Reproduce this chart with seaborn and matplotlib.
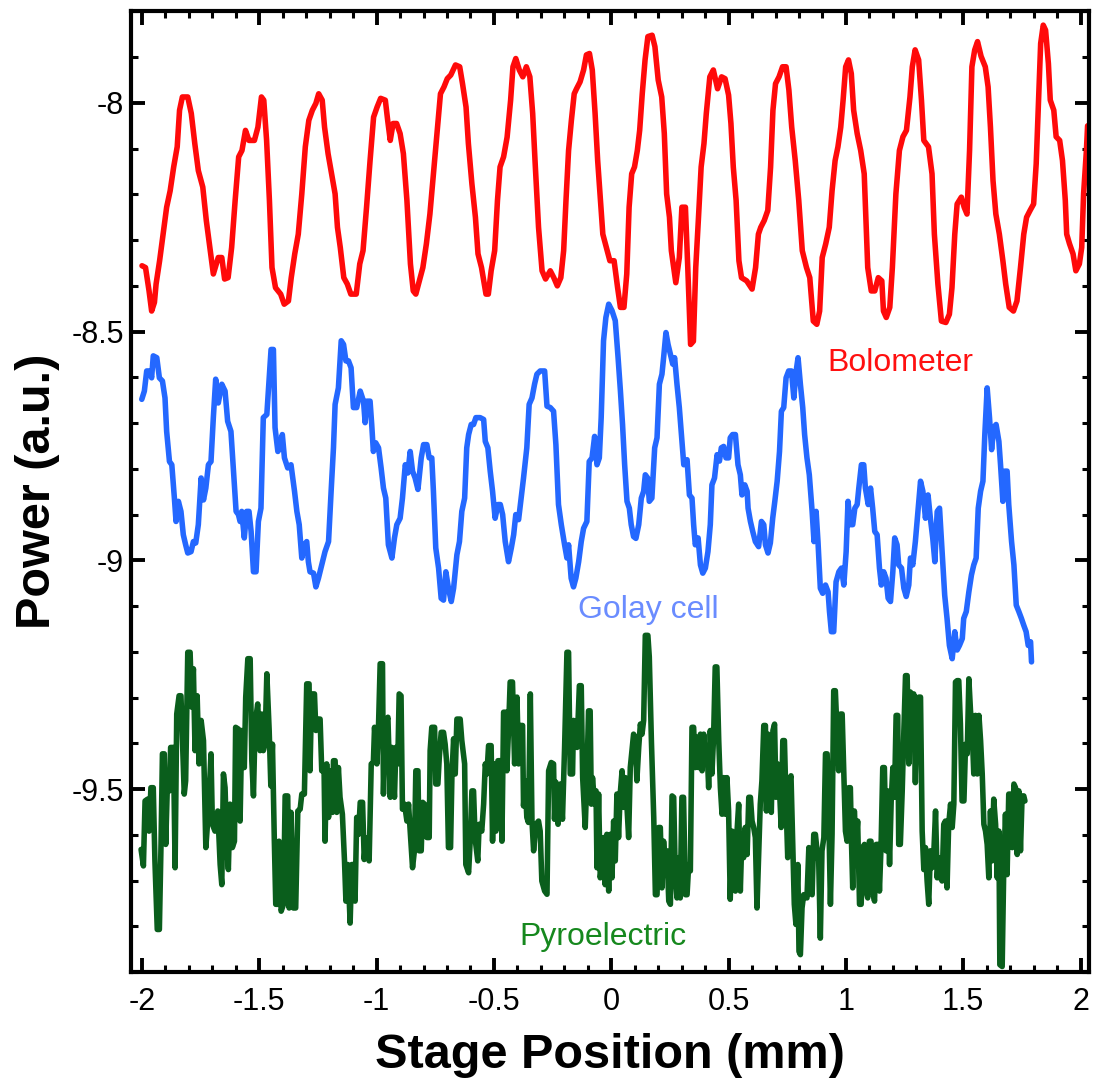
import matplotlib
matplotlib.use("Agg")
import matplotlib.pyplot as plt
from matplotlib.ticker import MultipleLocator, FuncFormatter
import seaborn as sns

# ============================================================
# DATA
# ============================================================
bolo_x = [
    -2.000, -1.985, -1.970, -1.959, -1.947, -1.940, -1.925, -1.910, -1.895, -1.880,
    -1.865, -1.850, -1.840, -1.828, -1.805, -1.790, -1.775, -1.760, -1.741, -1.726,
    -1.711, -1.696, -1.675, -1.660, -1.648, -1.633, -1.618, -1.603, -1.588, -1.574,
    -1.559, -1.544, -1.521, -1.506, -1.491, -1.481, -1.469, -1.457, -1.446, -1.431,
    -1.409, -1.394, -1.376, -1.364, -1.349, -1.334, -1.319, -1.304, -1.289, -1.274,
    -1.259, -1.247, -1.232, -1.222, -1.207, -1.192, -1.177, -1.167, -1.155, -1.140,
    -1.125, -1.110, -1.087, -1.072, -1.058, -1.043, -1.028, -1.013, -0.998, -0.983,
    -0.963, -0.953, -0.942, -0.930, -0.915, -0.900, -0.886, -0.871, -0.856, -0.844,
    -0.833, -0.818, -0.803, -0.788, -0.773, -0.758, -0.743, -0.728, -0.713, -0.699,
    -0.684, -0.664, -0.646, -0.634, -0.619, -0.609, -0.594, -0.579, -0.568, -0.553,
    -0.534, -0.524, -0.512, -0.497, -0.485, -0.474, -0.459, -0.444, -0.429, -0.419,
    -0.407, -0.392, -0.377, -0.362, -0.347, -0.335, -0.325, -0.310, -0.295, -0.280,
    -0.260, -0.245, -0.230, -0.215, -0.203, -0.193, -0.182, -0.170, -0.158, -0.148,
    -0.133, -0.118, -0.106, -0.093, -0.081, -0.069, -0.058, -0.048, -0.036, -0.021,
    -0.006, 0.012, 0.027, 0.039, 0.054, 0.066, 0.076, 0.087, 0.099, 0.111,
    0.121, 0.132, 0.144, 0.156, 0.174, 0.186, 0.200, 0.215, 0.226, 0.236,
    0.248, 0.256, 0.275, 0.290, 0.301, 0.316, 0.326, 0.338, 0.350, 0.360,
    0.371, 0.383, 0.395, 0.405, 0.420, 0.435, 0.453, 0.470, 0.485, 0.500,
    0.510, 0.520, 0.532, 0.544, 0.555, 0.577, 0.600, 0.615, 0.627, 0.637,
    0.652, 0.667, 0.679, 0.689, 0.700, 0.715, 0.730, 0.745, 0.757, 0.769,
    0.784, 0.799, 0.814, 0.832, 0.846, 0.861, 0.876, 0.888, 0.899, 0.914,
    0.929, 0.941, 0.954, 0.966, 0.978, 0.988, 0.999, 1.011, 1.023, 1.033,
    1.048, 1.063, 1.078, 1.093, 1.108, 1.123, 1.138, 1.153, 1.160, 1.172,
    1.187, 1.198, 1.213, 1.228, 1.243, 1.258, 1.273, 1.283, 1.295, 1.310,
    1.322, 1.332, 1.352, 1.367, 1.377, 1.392, 1.407, 1.426, 1.441, 1.452,
    1.464, 1.474, 1.492, 1.504, 1.516, 1.527, 1.537, 1.549, 1.561, 1.576,
    1.594, 1.606, 1.616, 1.627, 1.639, 1.654, 1.669, 1.681, 1.696, 1.714,
    1.729, 1.744, 1.758, 1.770, 1.785, 1.800, 1.811, 1.821, 1.830, 1.841,
    1.851, 1.863, 1.871, 1.886, 1.896, 1.911, 1.923, 1.935, 1.941, 1.953,
    1.968, 1.980, 1.995, 2.005, 2.013, 2.025, 2.030,
]
bolo_y = [
    -8.356, -8.360, -8.411, -8.455, -8.436, -8.396, -8.345, -8.287, -8.228, -8.192,
    -8.140, -8.096, -8.016, -7.987, -7.987, -8.023, -8.089, -8.148, -8.184, -8.257,
    -8.316, -8.374, -8.338, -8.338, -8.385, -8.382, -8.316, -8.213, -8.118, -8.104,
    -8.060, -8.082, -8.082, -8.053, -7.987, -7.994, -8.082, -8.213, -8.360, -8.404,
    -8.418, -8.440, -8.433, -8.382, -8.330, -8.287, -8.199, -8.096, -8.038, -8.016,
    -8.001, -7.980, -7.994, -8.053, -8.111, -8.155, -8.199, -8.272, -8.316, -8.382,
    -8.396, -8.418, -8.418, -8.352, -8.323, -8.228, -8.126, -8.031, -8.009, -7.990,
    -7.994, -8.038, -8.082, -8.045, -8.045, -8.067, -8.111, -8.213, -8.352, -8.411,
    -8.418, -8.389, -8.360, -8.308, -8.243, -8.155, -8.067, -7.980, -7.965, -7.947,
    -7.939, -7.917, -7.921, -7.958, -8.009, -8.089, -8.177, -8.250, -8.330, -8.360,
    -8.418, -8.418, -8.367, -8.323, -8.213, -8.140, -8.118, -8.075, -7.994, -7.921,
    -7.903, -7.928, -7.943, -7.921, -7.943, -8.023, -8.126, -8.272, -8.367, -8.385,
    -8.367, -8.382, -8.400, -8.382, -8.323, -8.213, -8.104, -8.038, -7.980, -7.969,
    -7.954, -7.928, -7.895, -7.892, -7.928, -8.023, -8.126, -8.199, -8.287, -8.316,
    -8.345, -8.345, -8.404, -8.447, -8.447, -8.374, -8.228, -8.155, -8.140, -8.104,
    -8.060, -7.980, -7.906, -7.855, -7.852, -7.877, -7.950, -7.987, -8.067, -8.199,
    -8.250, -8.323, -8.393, -8.338, -8.228, -8.228, -8.360, -8.528, -8.521, -8.360,
    -8.257, -8.140, -8.089, -8.023, -7.943, -7.928, -7.969, -7.943, -7.947, -7.983,
    -8.045, -8.140, -8.213, -8.345, -8.382, -8.389, -8.407, -8.360, -8.287, -8.272,
    -8.257, -8.235, -8.140, -8.016, -7.958, -7.943, -7.921, -7.921, -7.972, -8.053,
    -8.126, -8.213, -8.323, -8.360, -8.382, -8.477, -8.484, -8.455, -8.338, -8.308,
    -8.272, -8.192, -8.126, -8.096, -8.053, -7.994, -7.921, -7.906, -7.936, -8.016,
    -8.067, -8.104, -8.155, -8.360, -8.411, -8.411, -8.382, -8.389, -8.455, -8.469,
    -8.447, -8.360, -8.199, -8.104, -8.074, -8.060, -7.987, -7.921, -7.884, -7.906,
    -7.994, -8.082, -8.096, -8.155, -8.287, -8.396, -8.477, -8.480, -8.462, -8.404,
    -8.287, -8.221, -8.206, -8.228, -8.243, -8.104, -7.921, -7.884, -7.866, -7.898,
    -7.921, -7.965, -8.053, -8.170, -8.243, -8.287, -8.345, -8.396, -8.447, -8.455,
    -8.433, -8.360, -8.287, -8.250, -8.235, -8.221, -8.133, -7.994, -7.870, -7.830,
    -7.841, -7.914, -7.994, -8.016, -8.074, -8.082, -8.126, -8.213, -8.287, -8.308,
    -8.330, -8.367, -8.352, -8.316, -8.199, -8.104, -8.050,
]

golay_x = [
    -2.001, -1.990, -1.980, -1.966, -1.959, -1.952, -1.937, -1.926, -1.913, -1.902,
    -1.895, -1.883, -1.873, -1.862, -1.855, -1.845, -1.834, -1.824, -1.814, -1.805,
    -1.791, -1.781, -1.771, -1.760, -1.748, -1.738, -1.728, -1.717, -1.706, -1.696,
    -1.686, -1.675, -1.660, -1.646, -1.635, -1.621, -1.611, -1.599, -1.589, -1.582,
    -1.575, -1.564, -1.554, -1.544, -1.535, -1.525, -1.514, -1.504, -1.493, -1.483,
    -1.468, -1.458, -1.450, -1.440, -1.433, -1.421, -1.412, -1.402, -1.393, -1.379,
    -1.365, -1.350, -1.340, -1.330, -1.319, -1.308, -1.298, -1.291, -1.284, -1.269,
    -1.259, -1.248, -1.234, -1.220, -1.205, -1.194, -1.184, -1.177, -1.163, -1.151,
    -1.141, -1.131, -1.120, -1.109, -1.099, -1.085, -1.070, -1.056, -1.049, -1.042,
    -1.028, -1.021, -1.014, -1.004, -0.992, -0.981, -0.971, -0.961, -0.950, -0.935,
    -0.924, -0.914, -0.900, -0.890, -0.878, -0.867, -0.857, -0.847, -0.836, -0.824,
    -0.810, -0.800, -0.786, -0.776, -0.765, -0.758, -0.748, -0.736, -0.725, -0.715,
    -0.705, -0.694, -0.682, -0.672, -0.658, -0.647, -0.637, -0.625, -0.616, -0.608,
    -0.597, -0.587, -0.577, -0.559, -0.544, -0.537, -0.526, -0.516, -0.506, -0.495,
    -0.483, -0.473, -0.463, -0.452, -0.438, -0.426, -0.416, -0.407, -0.395, -0.384,
    -0.374, -0.360, -0.350, -0.338, -0.327, -0.317, -0.303, -0.284, -0.274, -0.260,
    -0.246, -0.236, -0.225, -0.213, -0.199, -0.189, -0.182, -0.171, -0.161, -0.151,
    -0.139, -0.128, -0.118, -0.104, -0.094, -0.082, -0.071, -0.061, -0.051, -0.043,
    -0.033, -0.023, -0.011, 0.003, 0.017, 0.029, 0.039, 0.048, 0.057, 0.067,
    0.077, 0.085, 0.095, 0.105, 0.117, 0.128, 0.138, 0.145, 0.155, 0.162,
    0.173, 0.185, 0.195, 0.205, 0.216, 0.223, 0.233, 0.242, 0.252, 0.262,
    0.270, 0.280, 0.290, 0.299, 0.309, 0.323, 0.333, 0.344, 0.351, 0.358,
    0.370, 0.380, 0.390, 0.401, 0.412, 0.422, 0.429, 0.440, 0.451, 0.461,
    0.469, 0.479, 0.489, 0.500, 0.507, 0.517, 0.529, 0.540, 0.550, 0.557,
    0.569, 0.579, 0.583, 0.593, 0.603, 0.614, 0.628, 0.640, 0.650, 0.657,
    0.668, 0.678, 0.688, 0.697, 0.707, 0.717, 0.725, 0.735, 0.745, 0.756,
    0.768, 0.778, 0.788, 0.796, 0.806, 0.816, 0.824, 0.834, 0.844, 0.856,
    0.864, 0.873, 0.881, 0.891, 0.901, 0.913, 0.924, 0.930, 0.938, 0.948,
    0.958, 0.970, 0.981, 0.991, 1.001, 1.009, 1.019, 1.029, 1.038, 1.048,
    1.055, 1.066, 1.076, 1.083, 1.095, 1.105, 1.114, 1.123, 1.133, 1.143,
    1.151, 1.161, 1.171, 1.180, 1.190, 1.200, 1.208, 1.218, 1.225, 1.237,
    1.247, 1.257, 1.268, 1.275, 1.285, 1.296, 1.308, 1.318, 1.328, 1.339,
    1.350, 1.360, 1.370, 1.379, 1.389, 1.399, 1.410, 1.421, 1.431, 1.441,
    1.453, 1.464, 1.474, 1.484, 1.496, 1.502, 1.513, 1.524, 1.535, 1.545,
    1.555, 1.564, 1.574, 1.584, 1.592, 1.602, 1.612, 1.621, 1.630, 1.640,
    1.652, 1.659, 1.669, 1.677, 1.687, 1.694, 1.706, 1.716, 1.726, 1.737,
    1.748, 1.758, 1.768, 1.777, 1.787, 1.791,
]
golay_y = [
    -8.648, -8.630, -8.586, -8.586, -8.601, -8.553, -8.557, -8.601, -8.608, -8.645,
    -8.718, -8.784, -8.791, -8.864, -8.915, -8.871, -8.893, -8.944, -8.966, -8.984,
    -8.981, -8.959, -8.962, -8.922, -8.820, -8.868, -8.842, -8.791, -8.784, -8.688,
    -8.604, -8.656, -8.615, -8.630, -8.696, -8.718, -8.798, -8.893, -8.900, -8.915,
    -8.893, -8.951, -8.893, -8.893, -8.937, -9.025, -9.025, -8.915, -8.886, -8.688,
    -8.681, -8.601, -8.539, -8.539, -8.710, -8.762, -8.754, -8.725, -8.776, -8.798,
    -8.791, -8.849, -8.893, -8.922, -8.995, -8.966, -8.959, -9.003, -9.025, -9.028,
    -9.058, -9.039, -9.010, -8.981, -8.959, -8.849, -8.754, -8.659, -8.623, -8.520,
    -8.528, -8.564, -8.564, -8.579, -8.666, -8.666, -8.630, -8.652, -8.699, -8.652,
    -8.652, -8.703, -8.762, -8.743, -8.754, -8.798, -8.842, -8.864, -8.966, -8.995,
    -8.951, -8.922, -8.908, -8.864, -8.791, -8.809, -8.762, -8.805, -8.820, -8.845,
    -8.776, -8.747, -8.747, -8.776, -8.776, -8.849, -8.973, -9.017, -9.083, -9.087,
    -9.025, -9.061, -9.090, -9.061, -8.988, -8.959, -8.893, -8.864, -8.754, -8.725,
    -8.703, -8.703, -8.688, -8.688, -8.692, -8.740, -8.754, -8.805, -8.849, -8.908,
    -8.878, -8.878, -8.900, -8.959, -9.003, -8.973, -8.944, -8.900, -8.911, -8.864,
    -8.820, -8.754, -8.659, -8.645, -8.615, -8.593, -8.586, -8.586, -8.663, -8.666,
    -8.674, -8.747, -8.878, -8.922, -8.966, -8.995, -8.966, -9.039, -9.058, -9.039,
    -9.003, -8.959, -8.930, -8.915, -8.784, -8.776, -8.729, -8.791, -8.776, -8.688,
    -8.520, -8.469, -8.440, -8.454, -8.476, -8.557, -8.630, -8.703, -8.791, -8.871,
    -8.886, -8.922, -8.948, -8.952, -8.922, -8.864, -8.849, -8.813, -8.820, -8.871,
    -8.864, -8.754, -8.732, -8.615, -8.593, -8.557, -8.502, -8.528, -8.549, -8.571,
    -8.557, -8.615, -8.666, -8.725, -8.791, -8.780, -8.857, -8.864, -8.922, -8.966,
    -8.951, -9.010, -9.028, -9.017, -8.981, -8.922, -8.835, -8.820, -8.769, -8.783,
    -8.754, -8.751, -8.776, -8.776, -8.732, -8.725, -8.725, -8.791, -8.813, -8.857,
    -8.835, -8.849, -8.886, -8.915, -8.937, -8.959, -8.970, -8.915, -8.922, -8.966,
    -8.984, -8.962, -8.908, -8.871, -8.827, -8.762, -8.674, -8.666, -8.601, -8.586,
    -8.586, -8.645, -8.586, -8.557, -8.615, -8.666, -8.725, -8.776, -8.813, -8.893,
    -8.959, -8.893, -8.959, -9.061, -9.072, -9.054, -9.069, -9.112, -9.156, -9.156,
    -9.047, -9.025, -9.017, -9.054, -8.981, -8.871, -8.922, -8.922, -8.886, -8.878,
    -8.842, -8.791, -8.791, -8.842, -8.878, -8.842, -8.886, -8.937, -8.944, -9.017,
    -9.054, -9.025, -9.039, -9.083, -9.090, -9.025, -8.951, -8.966, -9.010, -9.017,
    -9.061, -9.079, -9.054, -8.995, -9.010, -8.959, -8.886, -8.827, -8.849, -8.908,
    -8.857, -8.908, -8.951, -9.003, -8.893, -8.886, -8.981, -9.076, -9.127, -9.186,
    -9.215, -9.156, -9.196, -9.186, -9.171, -9.127, -9.112, -9.069, -9.032, -9.010,
    -8.995, -8.886, -8.849, -8.827, -8.725, -8.623, -8.688, -8.758, -8.710, -8.703,
    -8.740, -8.791, -8.871, -8.805, -8.805, -8.878, -8.959, -9.010, -9.098, -9.112,
    -9.127, -9.142, -9.156, -9.186, -9.178, -9.222,
]

pyro_x = [
    -2.004, -1.994, -1.987, -1.976, -1.970, -1.962, -1.952, -1.945, -1.935, -1.926,
    -1.919, -1.913, -1.905, -1.899, -1.891, -1.883, -1.878, -1.866, -1.859, -1.852,
    -1.842, -1.834, -1.828, -1.820, -1.814, -1.805, -1.795, -1.788, -1.781, -1.774,
    -1.765, -1.757, -1.748, -1.738, -1.728, -1.717, -1.706, -1.700, -1.689, -1.677,
    -1.667, -1.660, -1.653, -1.646, -1.639, -1.632, -1.625, -1.615, -1.606, -1.601,
    -1.589, -1.582, -1.575, -1.564, -1.558, -1.549, -1.539, -1.532, -1.525, -1.518,
    -1.507, -1.497, -1.490, -1.483, -1.476, -1.468, -1.458, -1.451, -1.444, -1.436,
    -1.430, -1.421, -1.416, -1.407, -1.397, -1.390, -1.379, -1.373, -1.365, -1.355,
    -1.345, -1.336, -1.326, -1.319, -1.308, -1.298, -1.288, -1.284, -1.277, -1.265,
    -1.259, -1.251, -1.241, -1.234, -1.224, -1.220, -1.213, -1.205, -1.198, -1.188,
    -1.184, -1.177, -1.170, -1.163, -1.156, -1.146, -1.137, -1.131, -1.123, -1.113,
    -1.106, -1.096, -1.092, -1.085, -1.077, -1.070, -1.060, -1.053, -1.046, -1.038,
    -1.032, -1.023, -1.014, -1.009, -0.999, -0.992, -0.985, -0.975, -0.971, -0.964,
    -0.952, -0.942, -0.935, -0.924, -0.918, -0.910, -0.904, -0.896, -0.890, -0.881,
    -0.871, -0.864, -0.857, -0.847, -0.839, -0.833, -0.824, -0.819, -0.810, -0.804,
    -0.796, -0.786, -0.776, -0.772, -0.765, -0.753, -0.748, -0.739, -0.733, -0.725,
    -0.715, -0.708, -0.701, -0.694, -0.685, -0.679, -0.672, -0.665, -0.658, -0.644,
    -0.637, -0.625, -0.620, -0.608, -0.601, -0.594, -0.587, -0.580, -0.569, -0.563,
    -0.552, -0.544, -0.537, -0.530, -0.523, -0.512, -0.506, -0.498, -0.492, -0.483,
    -0.473, -0.466, -0.459, -0.449, -0.445, -0.438, -0.431, -0.421, -0.412, -0.402,
    -0.395, -0.388, -0.378, -0.374, -0.367, -0.360, -0.353, -0.345, -0.338, -0.331,
    -0.321, -0.310, -0.303, -0.296, -0.284, -0.274, -0.267, -0.256, -0.246, -0.242,
    -0.236, -0.227, -0.217, -0.208, -0.199, -0.189, -0.182, -0.175, -0.165, -0.161,
    -0.146, -0.136, -0.128, -0.122, -0.111, -0.104, -0.097, -0.090, -0.085, -0.080,
    -0.071, -0.065, -0.061, -0.054, -0.047, -0.040, -0.033, -0.026, -0.019, -0.011,
    -0.004, 0.003, 0.010, 0.017, 0.024, 0.031, 0.038, 0.046, 0.053, 0.060,
    0.067, 0.074, 0.081, 0.088, 0.095, 0.102, 0.109, 0.117, 0.124, 0.131,
    0.138, 0.145, 0.156, 0.162, 0.171, 0.181, 0.188, 0.195, 0.202, 0.209,
    0.216, 0.223, 0.230, 0.237, 0.245, 0.252, 0.259, 0.266, 0.273, 0.280,
    0.287, 0.294, 0.301, 0.308, 0.316, 0.323, 0.330, 0.337, 0.344, 0.351,
    0.358, 0.365, 0.372, 0.380, 0.387, 0.394, 0.401, 0.408, 0.415, 0.422,
    0.429, 0.436, 0.443, 0.450, 0.458, 0.465, 0.472, 0.479, 0.486, 0.493,
    0.500, 0.507, 0.515, 0.522, 0.529, 0.536, 0.543, 0.550, 0.557, 0.564,
    0.571, 0.579, 0.586, 0.593, 0.600, 0.607, 0.614, 0.621, 0.628, 0.635,
    0.642, 0.650, 0.657, 0.661, 0.668, 0.675, 0.682, 0.689, 0.696, 0.702,
    0.709, 0.716, 0.724, 0.731, 0.738, 0.745, 0.752, 0.759, 0.766, 0.773,
    0.780, 0.787, 0.795, 0.800, 0.806, 0.813, 0.820, 0.827, 0.834, 0.842,
    0.849, 0.856, 0.863, 0.870, 0.877, 0.884, 0.891, 0.898, 0.906, 0.913,
    0.920, 0.927, 0.934, 0.941, 0.948, 0.955, 0.962, 0.969, 0.977, 0.984,
    0.991, 0.998, 1.005, 1.012, 1.019, 1.024, 1.029, 1.036, 1.043, 1.050,
    1.058, 1.065, 1.072, 1.079, 1.086, 1.093, 1.100, 1.107, 1.114, 1.122,
    1.129, 1.136, 1.143, 1.150, 1.157, 1.164, 1.171, 1.178, 1.186, 1.193,
    1.200, 1.207, 1.214, 1.221, 1.225, 1.232, 1.240, 1.247, 1.254, 1.261,
    1.268, 1.275, 1.282, 1.289, 1.296, 1.303, 1.311, 1.318, 1.325, 1.332,
    1.339, 1.346, 1.353, 1.360, 1.367, 1.375, 1.382, 1.389, 1.396, 1.403,
    1.410, 1.417, 1.424, 1.431, 1.438, 1.446, 1.453, 1.460, 1.467, 1.474,
    1.481, 1.488, 1.495, 1.503, 1.510, 1.517, 1.524, 1.531, 1.538, 1.545,
    1.552, 1.560, 1.567, 1.574, 1.581, 1.588, 1.595, 1.602, 1.609, 1.616,
    1.623, 1.630, 1.638, 1.645, 1.652, 1.656, 1.666, 1.673, 1.680, 1.687,
    1.694, 1.701, 1.709, 1.716, 1.723, 1.730, 1.737, 1.744, 1.751, 1.758,
    1.763,
]
pyro_y = [
    -9.632, -9.668, -9.526, -9.522, -9.592, -9.497, -9.497, -9.657, -9.807, -9.807,
    -9.621, -9.423, -9.423, -9.621, -9.475, -9.504, -9.409, -9.409, -9.672, -9.336,
    -9.296, -9.296, -9.387, -9.511, -9.482, -9.201, -9.201, -9.321, -9.237, -9.416,
    -9.296, -9.445, -9.350, -9.394, -9.628, -9.548, -9.423, -9.577, -9.592, -9.548,
    -9.665, -9.709, -9.467, -9.497, -9.621, -9.676, -9.533, -9.628, -9.614, -9.365,
    -9.369, -9.570, -9.372, -9.453, -9.299, -9.215, -9.215, -9.438, -9.515, -9.358,
    -9.314, -9.416, -9.336, -9.416, -9.402, -9.248, -9.372, -9.493, -9.402, -9.614,
    -9.752, -9.752, -9.614, -9.767, -9.752, -9.515, -9.515, -9.760, -9.551, -9.760,
    -9.760, -9.548, -9.544, -9.511, -9.511, -9.270, -9.270, -9.460, -9.292, -9.292,
    -9.372, -9.347, -9.347, -9.460, -9.460, -9.614, -9.445, -9.562, -9.460, -9.551,
    -9.438, -9.438, -9.551, -9.453, -9.518, -9.555, -9.657, -9.745, -9.665, -9.793,
    -9.665, -9.665, -9.745, -9.562, -9.599, -9.529, -9.529, -9.654, -9.610, -9.606,
    -9.657, -9.445, -9.442, -9.365, -9.445, -9.361, -9.226, -9.226, -9.511, -9.365,
    -9.343, -9.518, -9.409, -9.518, -9.409, -9.445, -9.292, -9.296, -9.544, -9.533,
    -9.570, -9.533, -9.592, -9.672, -9.635, -9.460, -9.460, -9.635, -9.635, -9.529,
    -9.533, -9.606, -9.606, -9.416, -9.365, -9.365, -9.489, -9.489, -9.431, -9.376,
    -9.376, -9.402, -9.445, -9.628, -9.628, -9.467, -9.390, -9.467, -9.347, -9.347,
    -9.394, -9.445, -9.665, -9.683, -9.610, -9.504, -9.504, -9.610, -9.657, -9.577,
    -9.592, -9.533, -9.445, -9.467, -9.405, -9.405, -9.614, -9.445, -9.592, -9.438,
    -9.438, -9.614, -9.332, -9.332, -9.460, -9.372, -9.266, -9.266, -9.445, -9.299,
    -9.445, -9.361, -9.361, -9.537, -9.482, -9.562, -9.573, -9.292, -9.570, -9.635,
    -9.577, -9.570, -9.592, -9.701, -9.723, -9.730, -9.460, -9.442, -9.445, -9.566,
    -9.485, -9.577, -9.489, -9.566, -9.409, -9.201, -9.201, -9.467, -9.467, -9.350,
    -9.409, -9.274, -9.274, -9.475, -9.584, -9.475, -9.329, -9.329, -9.533, -9.475,
    -9.533, -9.504, -9.672, -9.511, -9.694, -9.665, -9.606, -9.709, -9.599, -9.723,
    -9.599, -9.694, -9.570, -9.657, -9.511, -9.606, -9.511, -9.460, -9.540, -9.475,
    -9.540, -9.606, -9.453, -9.416, -9.380, -9.387, -9.482, -9.409, -9.358, -9.380,
    -9.350, -9.164, -9.164, -9.211, -9.394, -9.562, -9.731, -9.731, -9.584, -9.584,
    -9.716, -9.614, -9.665, -9.635, -9.745, -9.752, -9.515, -9.518, -9.694, -9.738,
    -9.650, -9.738, -9.518, -9.518, -9.731, -9.731, -9.665, -9.679, -9.365, -9.365,
    -9.453, -9.387, -9.453, -9.380, -9.460, -9.380, -9.431, -9.409, -9.497, -9.372,
    -9.467, -9.387, -9.233, -9.233, -9.394, -9.497, -9.555, -9.475, -9.555, -9.475,
    -9.548, -9.741, -9.592, -9.635, -9.723, -9.592, -9.533, -9.723, -9.599, -9.650,
    -9.584, -9.643, -9.518, -9.518, -9.570, -9.584, -9.606, -9.760, -9.650, -9.533,
    -9.482, -9.361, -9.361, -9.548, -9.380, -9.445, -9.551, -9.372, -9.358, -9.518,
    -9.445, -9.489, -9.584, -9.394, -9.394, -9.533, -9.650, -9.482, -9.471, -9.614,
    -9.752, -9.796, -9.665, -9.855, -9.862, -9.760, -9.731, -9.731, -9.738, -9.628,
    -9.723, -9.731, -9.599, -9.599, -9.635, -9.657, -9.826, -9.635, -9.606, -9.423,
    -9.423, -9.562, -9.752, -9.599, -9.285, -9.285, -9.372, -9.460, -9.336, -9.336,
    -9.460, -9.592, -9.614, -9.497, -9.497, -9.621, -9.716, -9.548, -9.621, -9.570,
    -9.752, -9.752, -9.628, -9.621, -9.723, -9.738, -9.614, -9.614, -9.723, -9.745,
    -9.621, -9.621, -9.723, -9.621, -9.453, -9.453, -9.635, -9.504, -9.665, -9.526,
    -9.453, -9.518, -9.339, -9.339, -9.621, -9.621, -9.504, -9.372, -9.252, -9.252,
    -9.445, -9.288, -9.387, -9.292, -9.486, -9.329, -9.299, -9.299, -9.592, -9.676,
    -9.628, -9.701, -9.752, -9.635, -9.672, -9.635, -9.548, -9.694, -9.650, -9.694,
    -9.701, -9.577, -9.570, -9.716, -9.577, -9.533, -9.584, -9.533, -9.266, -9.263,
    -9.263, -9.358, -9.526, -9.526, -9.402, -9.423, -9.259, -9.329, -9.372, -9.467,
    -9.339, -9.467, -9.339, -9.394, -9.467, -9.577, -9.592, -9.621, -9.694, -9.548,
    -9.657, -9.522, -9.577, -9.694, -9.592, -9.884, -9.888, -9.665, -9.555, -9.687,
    -9.511, -9.511, -9.628, -9.489, -9.497, -9.643, -9.504, -9.635, -9.515, -9.515,
    -9.526,
]

series_labels = ["Bolometer", "Golay cell", "Pyroelectric"]
label_pos = [(1.230, -8.586), (0.156, -9.126), (-0.036, -9.840)]
x_ticks = [-2, -1.5, -1, -0.5, 0, 0.5, 1, 1.5, 2]
y_ticks = [-9.5, -9, -8.5, -8]

LINE_COLORS = ["#FF0A0A", "#2468FF", "#0A5E1C"]
TEXT_COLORS = ["#FF1010", "#6A8CFF", "#16881E"]

# ============================================================
# STYLE SETTINGS
# ============================================================
sns.set_theme(style="white")
plt.rcParams["font.family"] = ["Liberation Sans", "DejaVu Sans"]
plt.rcParams["axes.linewidth"] = 3.0
plt.rcParams["text.color"] = "black"
plt.rcParams["axes.labelcolor"] = "black"
plt.rcParams["xtick.color"] = "black"
plt.rcParams["ytick.color"] = "black"

fig = plt.figure(figsize=(10.97, 10.84), dpi=100)
ax = fig.add_axes([0.1194, 0.1033, 0.8733, 0.887])

for (xs, ys), color in zip([(bolo_x, bolo_y), (golay_x, golay_y), (pyro_x, pyro_y)],
                           LINE_COLORS):
    sns.lineplot(x=xs, y=ys, ax=ax, color=color, linewidth=4.0,
                 estimator=None, sort=False, legend=False)

for text, (tx, ty), color in zip(series_labels, label_pos, TEXT_COLORS):
    ax.text(tx, ty, text, color=color, fontsize=23, ha="center", va="baseline")

ax.set_xlim(-2.047, 2.036)
ax.set_ylim(-9.90, -7.798)

ax.set_xticks(x_ticks)
ax.set_yticks(y_ticks)
ax.xaxis.set_minor_locator(MultipleLocator(0.1))
ax.yaxis.set_minor_locator(MultipleLocator(0.1))
fmt = FuncFormatter(lambda v, pos: "%g" % v)
ax.xaxis.set_major_formatter(fmt)
ax.yaxis.set_major_formatter(fmt)

ax.tick_params(which="both", direction="in", top=True, right=True,
               bottom=True, left=True, colors="black", labelcolor="black")
ax.tick_params(which="major", length=10, width=2.8, labelsize=22)
ax.tick_params(which="minor", length=5, width=2.2)
ax.tick_params(axis="x", which="major", pad=11)
ax.tick_params(axis="y", which="major", pad=5)

for sp in ax.spines.values():
    sp.set_color("black")
    sp.set_linewidth(3.0)

ax.set_xlabel("Stage Position (mm)", fontsize=35, fontweight="bold", color="black")
ax.set_ylabel("Power (a.u.)", fontsize=35, fontweight="bold", color="black")
ax.xaxis.label.set_verticalalignment("baseline")
ax.yaxis.label.set_verticalalignment("baseline")
ax.xaxis.set_label_coords(0.5, -0.0998)
ax.yaxis.set_label_coords(-0.0846, 0.5)

fig.savefig("out.png", dpi=100)
